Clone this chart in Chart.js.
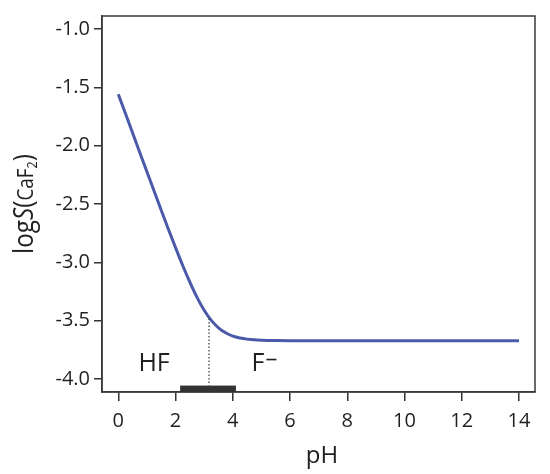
<!DOCTYPE html>
<html>
<head>
<meta charset="utf-8">
<script src="https://cdn.jsdelivr.net/npm/chart.js@4/dist/chart.umd.min.js"></script>
<style>
html,body{margin:0;padding:0;background:#fff;}
#wrap{width:550px;height:474px;position:relative;}
</style>
</head>
<body>
<div id="wrap"><canvas id="c" width="550" height="474"></canvas></div>
<script>
// ---- data ----
const pH = [0,0.25,0.5,0.75,1,1.25,1.5,1.75,2,2.25,2.5,2.75,3,3.25,3.5,3.75,4,4.25,4.5,4.75,5,5.5,6,7,8,9,10,11,12,13,14];
const logS = [-1.559,-1.725,-1.892,-2.058,-2.224,-2.389,-2.553,-2.715,-2.873,-3.026,-3.169,-3.299,-3.409,-3.496,-3.560,-3.603,-3.631,-3.647,-3.657,-3.663,-3.666,-3.669,-3.670,-3.670,-3.670,-3.670,-3.670,-3.670,-3.670,-3.670,-3.670];
const xTicks = [0,2,4,6,8,10,12,14];
const yTicks = [-4.0,-3.5,-3.0,-2.5,-2.0,-1.5,-1.0];
const pKa = 3.17;
const speciesLabels = ["HF","F"];
const speciesPH = [1.25,4.88];
const speciesY = -3.868;
const barRange = [2.16,4.11];
const barY = [-4.11,-4.055];

const FONT = "'Open Sans', 'Noto Sans', sans-serif";
const TXT = '#231f20';

const overlay = {
  id:'overlay',
  afterDatasetsDraw(chart){
    const {ctx, chartArea:a, scales:{x,y}} = chart;
    ctx.save();
    // frame
    ctx.strokeStyle = '#3a3a3a';
    ctx.lineWidth = 1.5;
    ctx.strokeRect(a.left, a.top, a.right-a.left, a.bottom-a.top);
    // dotted pKa line
    ctx.setLineDash([1.5,2]);
    ctx.lineWidth = 1.2;
    ctx.strokeStyle = '#333';
    const px = x.getPixelForValue(pKa);
    ctx.beginPath();
    ctx.moveTo(px, y.getPixelForValue(-3.48));
    ctx.lineTo(px, y.getPixelForValue(barY[1]));
    ctx.stroke();
    ctx.setLineDash([]);
    // bar
    ctx.fillStyle = '#333';
    const bx0 = x.getPixelForValue(barRange[0]), bx1 = x.getPixelForValue(barRange[1]);
    const by0 = y.getPixelForValue(barY[1]), by1 = y.getPixelForValue(barY[0]);
    ctx.fillRect(bx0, by0, bx1-bx0, by1-by0);
    // species labels
    ctx.fillStyle = TXT;
    ctx.font = '25px ' + FONT;
    ctx.textAlign = 'center';
    ctx.textBaseline = 'middle';
    speciesLabels.forEach((t,i)=>{
      ctx.fillText(t, x.getPixelForValue(speciesPH[i]), y.getPixelForValue(speciesY));
    });
    // superscript minus on F
    const fx = x.getPixelForValue(speciesPH[1]);
    const fy = y.getPixelForValue(speciesY);
    const fw = ctx.measureText('F').width;
    ctx.fillRect(fx + fw/2 + 2, fy - 5, 10, 1.6);
    // x title
    ctx.font = '24px ' + FONT;
    ctx.textBaseline = 'alphabetic';
    ctx.textAlign = 'center';
    ctx.fillText('pH', 322, 463);
    // y title rotated
    const segs = [
      {t:'log', f:'27px '+FONT, dy:0},
      {t:'S', f:'italic 27px '+FONT, dy:0},
      {t:'(', f:'27px '+FONT, dy:0},
      {t:'CaF', f:'21px '+FONT, dy:0},
      {t:'2', f:'14px '+FONT, dy:4},
      {t:')', f:'27px '+FONT, dy:0}
    ];
    const sx = 0.9;
    let total = 0;
    segs.forEach(s=>{ctx.font=s.f; s.w=ctx.measureText(s.t).width*sx; total+=s.w;});
    ctx.translate(33, 204);
    ctx.rotate(-Math.PI/2);
    ctx.textAlign = 'left';
    let cx = -total/2;
    segs.forEach(s=>{
      ctx.save();
      ctx.translate(cx, s.dy);
      ctx.scale(sx,1);
      ctx.font=s.f; ctx.fillText(s.t, 0, 0);
      ctx.restore();
      cx+=s.w;
    });
    ctx.restore();
  }
};

new Chart(document.getElementById('c'), {
  type:'scatter',
  data:{datasets:[{
    data: pH.map((v,i)=>({x:v, y:logS[i]})),
    showLine:true,
    borderColor:'#4b59a9',
    borderWidth:3,
    pointRadius:0,
    cubicInterpolationMode:'monotone',
    fill:false
  }]},
  options:{
    responsive:false,
    animation:false,
    layout:{padding:{top:14, right:15, left:0, bottom:0}},
    plugins:{legend:{display:false}, tooltip:{enabled:false}},
    scales:{
      x:{
        type:'linear', min:-0.57, max:14.56,
        afterBuildTicks(s){ s.ticks = xTicks.map(v=>({value:v})); },
        afterFit(s){ s.height = 82; },
        grid:{drawOnChartArea:false, drawTicks:true, tickLength:9, color:'#333', lineWidth:1.5},
        border:{display:true, color:'#3a3a3a', width:1.5},
        ticks:{font:{family:FONT, size:20}, color:TXT, padding:8, maxRotation:0,
               callback:v=>String(v)}
      },
      y:{
        type:'linear', min:-4.11, max:-0.889,
        afterBuildTicks(s){ s.ticks = yTicks.map(v=>({value:v})); },
        afterFit(s){ s.width = 102; },
        grid:{drawOnChartArea:false, drawTicks:true, tickLength:8, color:'#333', lineWidth:1.5},
        border:{display:true, color:'#3a3a3a', width:1.5},
        ticks:{font:{family:FONT, size:20}, color:TXT, padding:4,
               callback:v=>v.toFixed(1)}
      }
    }
  },
  plugins:[overlay]
});
</script>
</body>
</html>
